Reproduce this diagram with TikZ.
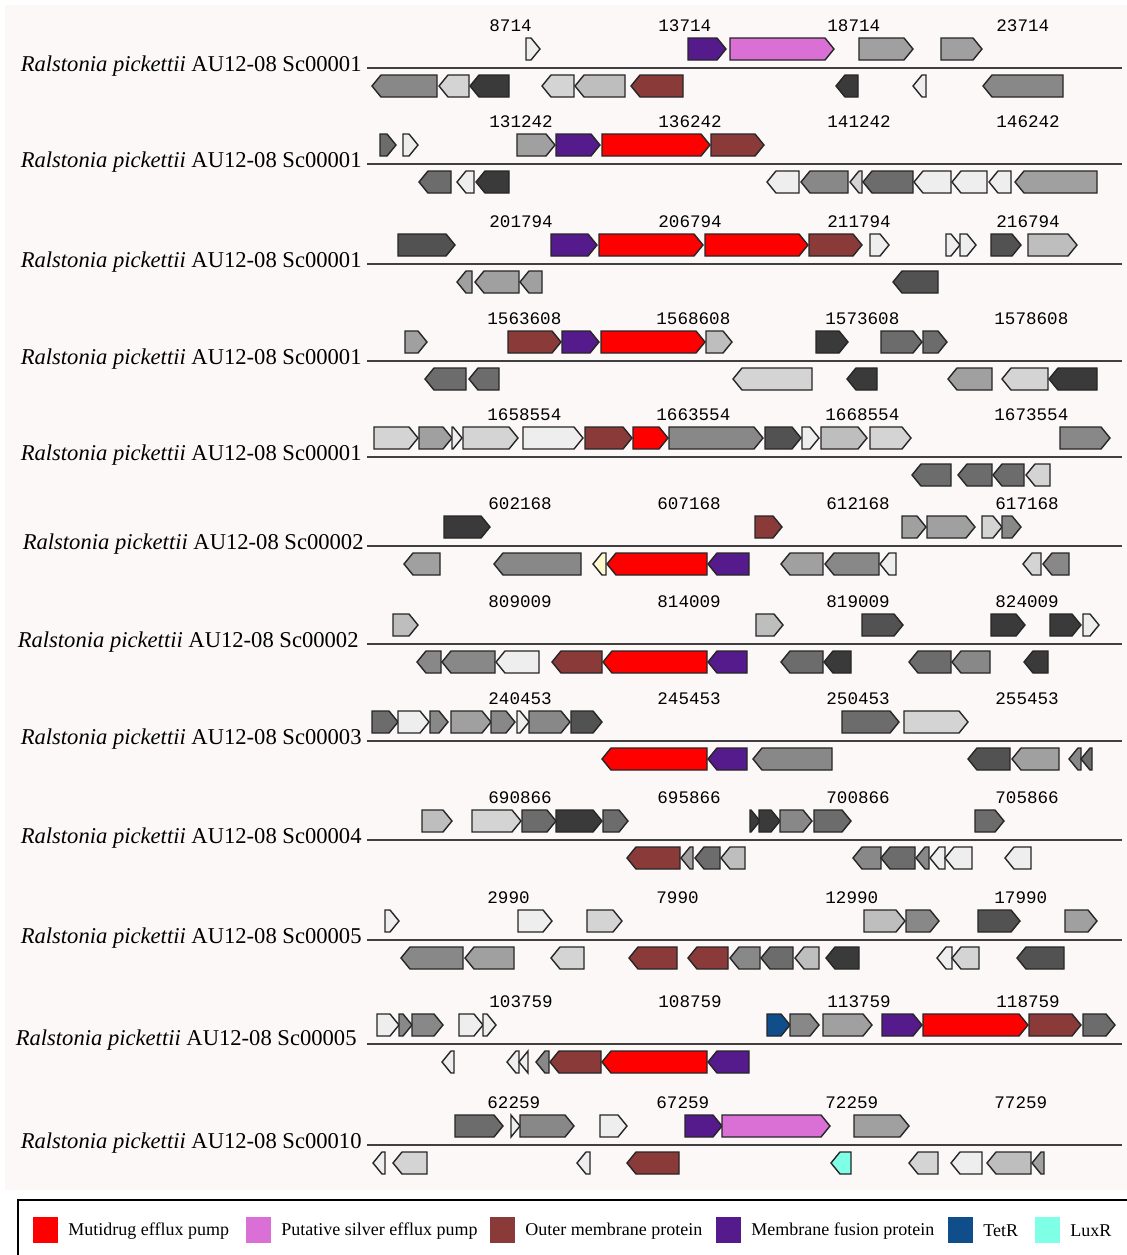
\documentclass[tikz,border=0pt]{standalone}
\usepackage{fontspec}
\setmainfont{Liberation Serif}
\setmonofont{Liberation Mono}
\usepackage{tikz}
\usetikzlibrary{positioning}
\definecolor{gA}{RGB}{238,238,238}
\definecolor{gB}{RGB}{212,212,212}
\definecolor{gC}{RGB}{190,190,190}
\definecolor{gD}{RGB}{160,160,160}
\definecolor{gE}{RGB}{136,136,136}
\definecolor{gF}{RGB}{108,108,108}
\definecolor{gG}{RGB}{82,82,82}
\definecolor{gH}{RGB}{58,58,58}
\definecolor{cred}{RGB}{255,0,0}
\definecolor{cpink}{RGB}{218,112,214}
\definecolor{cbrown}{RGB}{139,58,58}
\definecolor{cpurple}{RGB}{85,26,139}
\definecolor{ctetr}{RGB}{16,78,139}
\definecolor{cluxr}{RGB}{127,255,230}
\definecolor{ccream}{RGB}{255,250,205}
\definecolor{bgpink}{RGB}{252,248,248}

% forward gene above the rule, reverse gene below it (x from, x to, fill)
\newcommand{\fwdgene}[3]{%
  \pgfmathsetmacro{\ghead}{min(9,#2-#1)}%
  \draw[gene, fill=#3] (#1,-30) -- ({#2-\ghead},-30) -- (#2,-19)
    -- ({#2-\ghead},-8) -- (#1,-8) -- cycle;}
\newcommand{\revgene}[3]{%
  \pgfmathsetmacro{\ghead}{min(9,#2-#1)}%
  \draw[gene, fill=#3] (#2,7) -- ({#1+\ghead},7) -- (#1,18)
    -- ({#1+\ghead},29) -- (#2,29) -- cycle;}

\begin{document}
\begin{tikzpicture}[x=0.5pt, y=-0.5pt,
  gene/.style={draw=black!85, line width=0.7pt, line join=miter},
  rule/.style={draw=black!75, line width=1pt},
  rowlab/.style={anchor=east, inner sep=0pt, font=\fontsize{11.3}{13}\selectfont},
  coord/.style={anchor=west, inner sep=0pt, font=\ttfamily\fontsize{8.8}{10}\selectfont},
  legtext/.style={anchor=west, inner sep=0pt, font=\fontsize{9}{11}\selectfont}]

  \useasboundingbox (0,0) rectangle (1127,1255);
  \fill[bgpink] (5,5) rectangle (1127,1190);

  % ── row 1 ──
  \begin{scope}[shift={(0,68)}]
    \draw[rule] (367,0) -- (1122,0);
    \node[rowlab] (lab1) at (362,-2) {\textit{Ralstonia pickettii} AU12-08 Sc00001};
    \foreach \t [count=\i from 0] in {8714,13714,18714,23714}
      \node[coord] (num1-\i) at ({489+169*\i},-42) {\t};
    \foreach \a/\b/\c in {526/540/gA, 688/726/cpurple, 730/834/cpink,
      859/913/gD, 941/982/gD}
      \fwdgene{\a}{\b}{\c};
    \foreach \a/\b/\c in {372/437/gE, 439/469/gB, 470/509/gH, 542/574/gB,
      575/625/gC, 631/683/cbrown, 836/858/gH, 913/926/gA, 983/1063/gE}
      \revgene{\a}{\b}{\c};
  \end{scope}

  % ── row 2 ──
  \begin{scope}[shift={(0,164)}]
    \draw[rule] (367,0) -- (1122,0);
    \node[rowlab] (lab2) at (362,-2) {\textit{Ralstonia pickettii} AU12-08 Sc00001};
    \foreach \t [count=\i from 0] in {131242,136242,141242,146242}
      \node[coord] (num2-\i) at ({489+169*\i},-42) {\t};
    \foreach \a/\b/\c in {380/396/gF, 403/418/gA, 517/555/gD, 556/600/cpurple,
      602/710/cred, 711/764/cbrown}
      \fwdgene{\a}{\b}{\c};
    \foreach \a/\b/\c in {419/451/gF, 457/474/gA, 476/509/gH, 767/799/gA,
      801/848/gE, 850/862/gB, 863/913/gF, 914/951/gA, 952/987/gA,
      989/1011/gA, 1015/1097/gD}
      \revgene{\a}{\b}{\c};
  \end{scope}

  % ── row 3 ──
  \begin{scope}[shift={(0,264)}]
    \draw[rule] (367,0) -- (1122,0);
    \node[rowlab] (lab3) at (362,-2) {\textit{Ralstonia pickettii} AU12-08 Sc00001};
    \foreach \t [count=\i from 0] in {201794,206794,211794,216794}
      \node[coord] (num3-\i) at ({489+169*\i},-42) {\t};
    \foreach \a/\b/\c in {398/455/gG, 551/597/cpurple, 599/703/cred,
      705/808/cred, 809/862/cbrown, 870/889/gA, 946/960/gA, 960/976/gA,
      991/1021/gG, 1028/1077/gC}
      \fwdgene{\a}{\b}{\c};
    \foreach \a/\b/\c in {457/472/gD, 475/519/gD, 520/542/gD, 893/938/gG}
      \revgene{\a}{\b}{\c};
  \end{scope}

  % ── row 4 ──
  \begin{scope}[shift={(0,361)}]
    \draw[rule] (367,0) -- (1122,0);
    \node[rowlab] (lab4) at (362,-2) {\textit{Ralstonia pickettii} AU12-08 Sc00001};
    \foreach \t [count=\i from 0] in {1563608,1568608,1573608,1578608}
      \node[coord] (num4-\i) at ({487+169*\i},-42) {\t};
    \foreach \a/\b/\c in {405/427/gD, 508/561/cbrown, 562/599/cpurple,
      601/705/cred, 706/732/gC, 816/848/gH, 881/922/gF, 923/947/gF}
      \fwdgene{\a}{\b}{\c};
    \foreach \a/\b/\c in {425/466/gF, 469/499/gF, 733/812/gB, 847/877/gH,
      948/992/gD, 1002/1048/gB, 1049/1097/gH}
      \revgene{\a}{\b}{\c};
  \end{scope}

  % ── row 5 ──
  \begin{scope}[shift={(0,457)}]
    \draw[rule] (367,0) -- (1122,0);
    \node[rowlab] (lab5) at (362,-2) {\textit{Ralstonia pickettii} AU12-08 Sc00001};
    \foreach \t [count=\i from 0] in {1658554,1663554,1668554,1673554}
      \node[coord] (num5-\i) at ({487+169*\i},-42) {\t};
    \foreach \a/\b/\c in {374/418/gB, 419/452/gD, 452/462/gA, 463/518/gB,
      523/583/gA, 585/632/cbrown, 633/668/cred, 669/763/gE, 765/801/gG,
      802/819/gA, 821/867/gC, 870/911/gB, 1060/1110/gE}
      \fwdgene{\a}{\b}{\c};
    \foreach \a/\b/\c in {912/951/gF, 958/992/gF, 993/1024/gF, 1026/1050/gB}
      \revgene{\a}{\b}{\c};
  \end{scope}

  % ── row 6 ──
  \begin{scope}[shift={(0,546)}]
    \draw[rule] (367,0) -- (1122,0);
    \node[rowlab] (lab6) at (364,-2) {\textit{Ralstonia pickettii} AU12-08 Sc00002};
    \foreach \t [count=\i from 0] in {602168,607168,612168,617168}
      \node[coord] (num6-\i) at ({488+169*\i},-42) {\t};
    \foreach \a/\b/\c in {444/490/gH, 755/782/cbrown, 902/926/gD,
      927/975/gD, 982/1002/gB, 1002/1021/gE}
      \fwdgene{\a}{\b}{\c};
    \foreach \a/\b/\c in {404/440/gD, 494/581/gE, 593/606/ccream,
      607/707/cred, 708/749/cpurple, 781/823/gD, 825/879/gE, 880/896/gA,
      1023/1041/gB, 1043/1069/gE}
      \revgene{\a}{\b}{\c};
  \end{scope}

  % ── row 7 ──
  \begin{scope}[shift={(0,644)}]
    \draw[rule] (367,0) -- (1122,0);
    \node[rowlab] (lab7) at (359,-2) {\textit{Ralstonia pickettii} AU12-08 Sc00002};
    \foreach \t [count=\i from 0] in {809009,814009,819009,824009}
      \node[coord] (num7-\i) at ({488+169*\i},-42) {\t};
    \foreach \a/\b/\c in {393/418/gC, 756/783/gC, 862/903/gG, 991/1025/gH,
      1050/1081/gH, 1083/1099/gA}
      \fwdgene{\a}{\b}{\c};
    \foreach \a/\b/\c in {417/441/gE, 442/495/gE, 496/539/gA, 552/602/cbrown,
      603/707/cred, 708/747/cpurple, 781/823/gF, 824/851/gH, 909/951/gF,
      952/990/gE, 1024/1048/gH}
      \revgene{\a}{\b}{\c};
  \end{scope}

  % ── row 8 ──
  \begin{scope}[shift={(0,741)}]
    \draw[rule] (367,0) -- (1122,0);
    \node[rowlab] (lab8) at (362,-2) {\textit{Ralstonia pickettii} AU12-08 Sc00003};
    \foreach \t [count=\i from 0] in {240453,245453,250453,255453}
      \node[coord] (num8-\i) at ({488+169*\i},-42) {\t};
    \foreach \a/\b/\c in {372/398/gF, 398/429/gA, 430/448/gE, 451/491/gD,
      491/515/gE, 517/529/gA, 529/570/gE, 571/602/gG, 842/899/gF, 904/968/gB}
      \fwdgene{\a}{\b}{\c};
    \foreach \a/\b/\c in {602/707/cred, 708/747/cpurple, 753/832/gE,
      968/1010/gG, 1012/1059/gD, 1069/1081/gE, 1081/1092/gF}
      \revgene{\a}{\b}{\c};
  \end{scope}

  % ── row 9 ──
  \begin{scope}[shift={(0,840)}]
    \draw[rule] (367,0) -- (1122,0);
    \node[rowlab] (lab9) at (362,-2) {\textit{Ralstonia pickettii} AU12-08 Sc00004};
    \foreach \t [count=\i from 0] in {690866,695866,700866,705866}
      \node[coord] (num9-\i) at ({488+169*\i},-42) {\t};
    \foreach \a/\b/\c in {422/452/gC, 472/521/gB, 522/556/gF, 556/602/gH,
      603/628/gF, 750/760/gH, 759/780/gH, 780/812/gE, 814/851/gF, 975/1004/gF}
      \fwdgene{\a}{\b}{\c};
    \foreach \a/\b/\c in {627/680/cbrown, 681/693/gD, 695/720/gF, 721/745/gC,
      853/881/gE, 881/915/gF, 916/929/gE, 930/945/gA, 945/972/gA, 1005/1031/gA}
      \revgene{\a}{\b}{\c};
  \end{scope}

  % ── row 10 ──
  \begin{scope}[shift={(0,940)}]
    \draw[rule] (367,0) -- (1122,0);
    \node[rowlab] (lab10) at (362,-2) {\textit{Ralstonia pickettii} AU12-08 Sc00005};
    \foreach \t [count=\i from 0] in {2990,7990,12990,17990}
      \node[coord] (num10-\i) at ({487+169*\i},-42) {\t};
    \foreach \a/\b/\c in {385/399/gA, 518/552/gA, 587/622/gB, 864/905/gC,
      906/939/gE, 978/1020/gG, 1065/1097/gD}
      \fwdgene{\a}{\b}{\c};
    \foreach \a/\b/\c in {401/463/gE, 465/514/gD, 551/584/gB, 629/677/cbrown,
      688/728/cbrown, 730/760/gE, 761/793/gF, 795/819/gC, 826/859/gH,
      937/952/gA, 952/979/gB, 1017/1064/gG}
      \revgene{\a}{\b}{\c};
  \end{scope}

  % ── row 11 ──
  \begin{scope}[shift={(0,1044)}]
    \draw[rule] (367,0) -- (1122,0);
    \node[rowlab] (lab11) at (357,-4) {\textit{Ralstonia pickettii} AU12-08 Sc00005};
    \foreach \t [count=\i from 0] in {103759,108759,113759,118759}
      \node[coord] (num11-\i) at ({489+169*\i},-42) {\t};
    \foreach \a/\b/\c in {377/399/gA, 399/412/gE, 412/443/gE, 459/483/gA,
      483/496/gA, 767/790/ctetr, 790/819/gE, 823/872/gD, 882/922/cpurple,
      923/1028/cred, 1029/1081/cbrown, 1083/1115/gF}
      \fwdgene{\a}{\b}{\c};
    \foreach \a/\b/\c in {442/454/gA, 507/519/gA, 519/528/gA, 536/549/gE,
      550/601/cbrown, 602/707/cred, 708/749/cpurple}
      \revgene{\a}{\b}{\c};
  \end{scope}

  % ── row 12 ──
  \begin{scope}[shift={(0,1145)}]
    \draw[rule] (367,0) -- (1122,0);
    \node[rowlab] (lab12) at (362,-2) {\textit{Ralstonia pickettii} AU12-08 Sc00010};
    \foreach \t [count=\i from 0] in {62259,67259,72259,77259}
      \node[coord] (num12-\i) at ({487+169*\i},-42) {\t};
    \foreach \a/\b/\c in {455/503/gF, 511/520/gA, 520/574/gE, 600/627/gA,
      685/722/cpurple, 722/830/cpink, 854/909/gD}
      \fwdgene{\a}{\b}{\c};
    \foreach \a/\b/\c in {373/385/gA, 393/427/gB, 577/590/gA, 627/679/cbrown,
      831/851/cluxr, 909/938/gB, 951/982/gA, 987/1031/gC, 1032/1044/gD}
      \revgene{\a}{\b}{\c};
  \end{scope}

  % ── Legend ──
  \draw[black, line width=0.8pt] (18,1255) -- (18,1200) -- (1127,1200);
  \begin{scope}[shift={(0,1230)}]
    \foreach \x/\c/\t [count=\i] in {33/cred/Mutidrug efflux pump,
      246/cpink/Putative silver efflux pump, 490/cbrown/Outer membrane protein,
      716/cpurple/Membrane fusion protein, 948/ctetr/TetR, 1035/cluxr/LuxR} {
      \fill[\c] (\x,-13) rectangle ({\x+25},13);
      \node[legtext] (leg\i) at ({\x+35},1) {\t};
    }
  \end{scope}

\end{tikzpicture}
\end{document}
